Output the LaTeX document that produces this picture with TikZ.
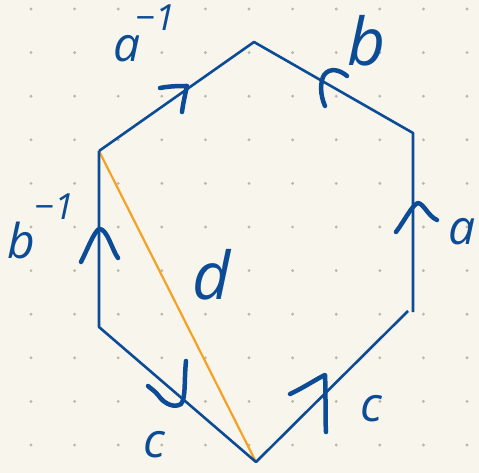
\documentclass[tikz,border=0pt]{standalone}
\usepackage{fontspec}
\setmainfont{Open Sans}
\definecolor{paper}{HTML}{F8F6EC}
\definecolor{dotc}{HTML}{B9B7AE}
\definecolor{ink}{HTML}{0C4B96}
\definecolor{hl}{HTML}{F4A126}
\tikzset{
  edge/.style={draw=ink, line width=2.6pt, line join=round},
  diag/.style={draw=hl, line width=2.2pt},
  tick/.style={draw=ink, line width=4.5pt, line cap=round, line join=round},
  lbl/.style={text=ink, inner sep=0pt, font=\fontsize{48}{48}\selectfont\itshape},
  tall/.style={text=ink, inner sep=0pt, font=\fontsize{66}{66}\selectfont\itshape},
  supl/.style={text=ink, inner sep=0pt, anchor=base west, font=\fontsize{36}{36}\selectfont\itshape},
}
\begin{document}
\begin{tikzpicture}[x=1pt,y=-1pt]
\useasboundingbox (0,0) rectangle (479,473);
\fill[paper] (0,0) rectangle (479,473);
% dot grid
\foreach \i in {0,...,10}{
  \foreach \j in {0,...,10}{
    \fill[dotc] ({31+43.6*\i},{9+43.6*\j}) circle (1.6);
  }
}
% hexagon vertices
\coordinate (T) at (254,42);
\coordinate (UR) at (413,133);
\coordinate (LR) at (413,312);
\coordinate (LRd) at (408,311);
\coordinate (B) at (256,462);
\coordinate (LL) at (99,327);
\coordinate (UL) at (99,151);
% diagonal
\draw[diag] (UL) -- (B);
% edges
\draw[edge] (UL) -- (T) -- (UR) -- (LR);
\draw[edge] (LRd) -- (B) -- (LL) -- (UL);
% arrow marks
\draw[tick] (160,88) .. controls (170,86) and (180,86) .. (187,86) .. controls (185,95) and (183,104) .. (182,112);
\draw[tick] (325,106) .. controls (320,95) and (320,82) .. (324,75) .. controls (330,67) and (340,70) .. (347,76);
\draw[tick] (396,232) .. controls (405,220) and (412,205) .. (418,203) .. controls (424,204) and (428,216) .. (437,220);
\draw[tick] (81,262) .. controls (88,248) and (94,232) .. (99,229) .. controls (107,228) and (112,250) .. (118,258);
\draw[tick] (186,361) .. controls (184,380) and (186,398) .. (181,404) .. controls (175,408) and (165,405) .. (158,395) .. controls (155,391) and (150,388) .. (148,386);
\draw[tick] (290,394) .. controls (305,387) and (318,378) .. (325,375) .. controls (326,395) and (325,415) .. (326,432);
% labels
\node[lbl] (la) at (127,49) {a};
\node[supl] (lasup) at (135,31) {−1};
\node[tall] (lb) at (367,41) {b};
\node[lbl] (lbi) at (21,240) {b};
\node[supl] (lbisup) at (34,219) {−1};
\node[lbl] (lar) at (462,232) {a};
\node[tall] (ld) at (212,275) {d};
\node[lbl] (lcl) at (154,445) {c};
\node[lbl] (lcr) at (371,409) {c};
\end{tikzpicture}
\end{document}
